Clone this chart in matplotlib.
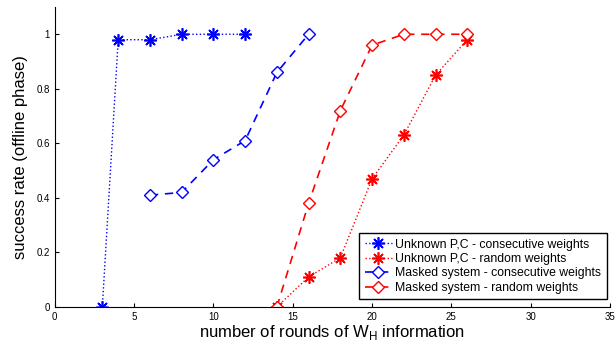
import matplotlib
matplotlib.use("Agg")
import matplotlib.pyplot as plt

plt.rcParams["font.family"] = ["Liberation Sans", "DejaVu Sans"]
plt.rcParams["mathtext.fontset"] = "custom"
plt.rcParams["mathtext.rm"] = "Liberation Sans"

# data
x_pc_cons = [3, 4, 6, 8, 10, 12]
y_pc_cons = [0, 0.98, 0.98, 1.0, 1.0, 1.0]
x_pc_rand = [14, 16, 18, 20, 22, 24, 26]
y_pc_rand = [0, 0.11, 0.18, 0.47, 0.63, 0.85, 0.98]
x_mask_cons = [6, 8, 10, 12, 14, 16]
y_mask_cons = [0.41, 0.42, 0.54, 0.61, 0.86, 1.0]
x_mask_rand = [14, 16, 18, 20, 22, 24, 26]
y_mask_rand = [0, 0.38, 0.72, 0.96, 1.0, 1.0, 1.0]

fig = plt.figure(figsize=(6.15, 3.5), dpi=100)
ax = fig.add_axes([0.089, 0.123, 0.903, 0.857])

star = (8, 2, 0)
ax.plot(x_pc_cons, y_pc_cons, color="blue", linestyle=":", marker=star,
        markersize=9, markeredgewidth=1.2, lw=1, label="Unknown P,C - consecutive weights")
ax.plot(x_pc_rand, y_pc_rand, color="red", linestyle=":", marker=star,
        markersize=9, markeredgewidth=1.2, lw=1, label="Unknown P,C - random weights")
ax.plot(x_mask_cons, y_mask_cons, color="blue", linestyle=(0, (5, 4)), marker="D",
        markersize=6, markerfacecolor="white", lw=1.2, label="Masked system - consecutive weights")
ax.plot(x_mask_rand, y_mask_rand, color="red", linestyle=(0, (5, 4)), marker="D",
        markersize=6, markerfacecolor="white", lw=1.2, label="Masked system - random weights")

ax.set_xlim(0, 35)
ax.set_ylim(0, 1.1)
ax.set_xticks(range(0, 36, 5))
ax.set_yticks([0, 0.2, 0.4, 0.6, 0.8, 1])
ax.set_yticklabels(["0", "0.2", "0.4", "0.6", "0.8", "1"])
ax.tick_params(labelsize=7, direction="in", length=3)
ax.spines["top"].set_visible(False)
ax.spines["right"].set_visible(False)

ax.set_xlabel(r"number of rounds of W$_\mathrm{H}$ information", fontsize=12, labelpad=1)
ax.set_ylabel("success rate (offline phase)", fontsize=12, labelpad=6)

ax.legend(loc="lower right", fontsize=8.8, fancybox=False, edgecolor="black",
          framealpha=1, borderpad=0.45, labelspacing=0.2, handlelength=2.2,
          handletextpad=0.3, bbox_to_anchor=(1.005, 0.005))

fig.savefig("out.png", dpi=100)
